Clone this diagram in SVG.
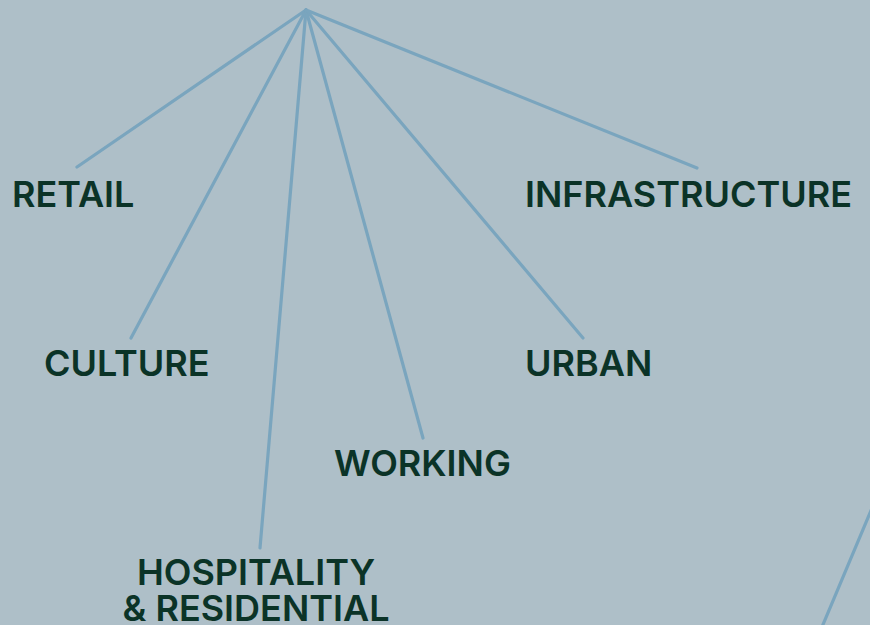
<svg xmlns="http://www.w3.org/2000/svg" width="870" height="625" viewBox="0 0 870 625">
<style>
.c{stroke:#7aa5be;stroke-width:3.2;fill:none;stroke-linecap:round}
.t{font-family:Inter,"Noto Sans",sans-serif;font-weight:600;font-size:36px;fill:#0b3327}
</style>
<rect width="870" height="625" fill="#aebfc8"/>
<g id="connectors">
<line class="c" x1="306" y1="10" x2="77" y2="167"/>
<line class="c" x1="306" y1="10" x2="131" y2="338"/>
<line class="c" x1="306" y1="10" x2="260" y2="548"/>
<line class="c" x1="306" y1="10" x2="423" y2="438"/>
<line class="c" x1="306" y1="10" x2="583" y2="338"/>
<line class="c" x1="306" y1="10" x2="697" y2="168"/>
<path class="c" d="M872 508 Q848 565 822 627"/>
</g>
<g id="retail"><text class="t" x="12" y="207">RETAIL</text></g>
<g id="infrastructure"><text class="t" x="525" y="207">INFRASTRUCTURE</text></g>
<g id="culture"><text class="t" x="44" y="376">CULTURE</text></g>
<g id="urban"><text class="t" x="525" y="376">URBAN</text></g>
<g id="working"><text class="t" x="334" y="476">WORKING</text></g>
<g id="hospitality"><text class="t" x="256" y="585" text-anchor="middle">HOSPITALITY</text><text class="t" x="256" y="621" text-anchor="middle">&amp; RESIDENTIAL</text></g>
</svg>
